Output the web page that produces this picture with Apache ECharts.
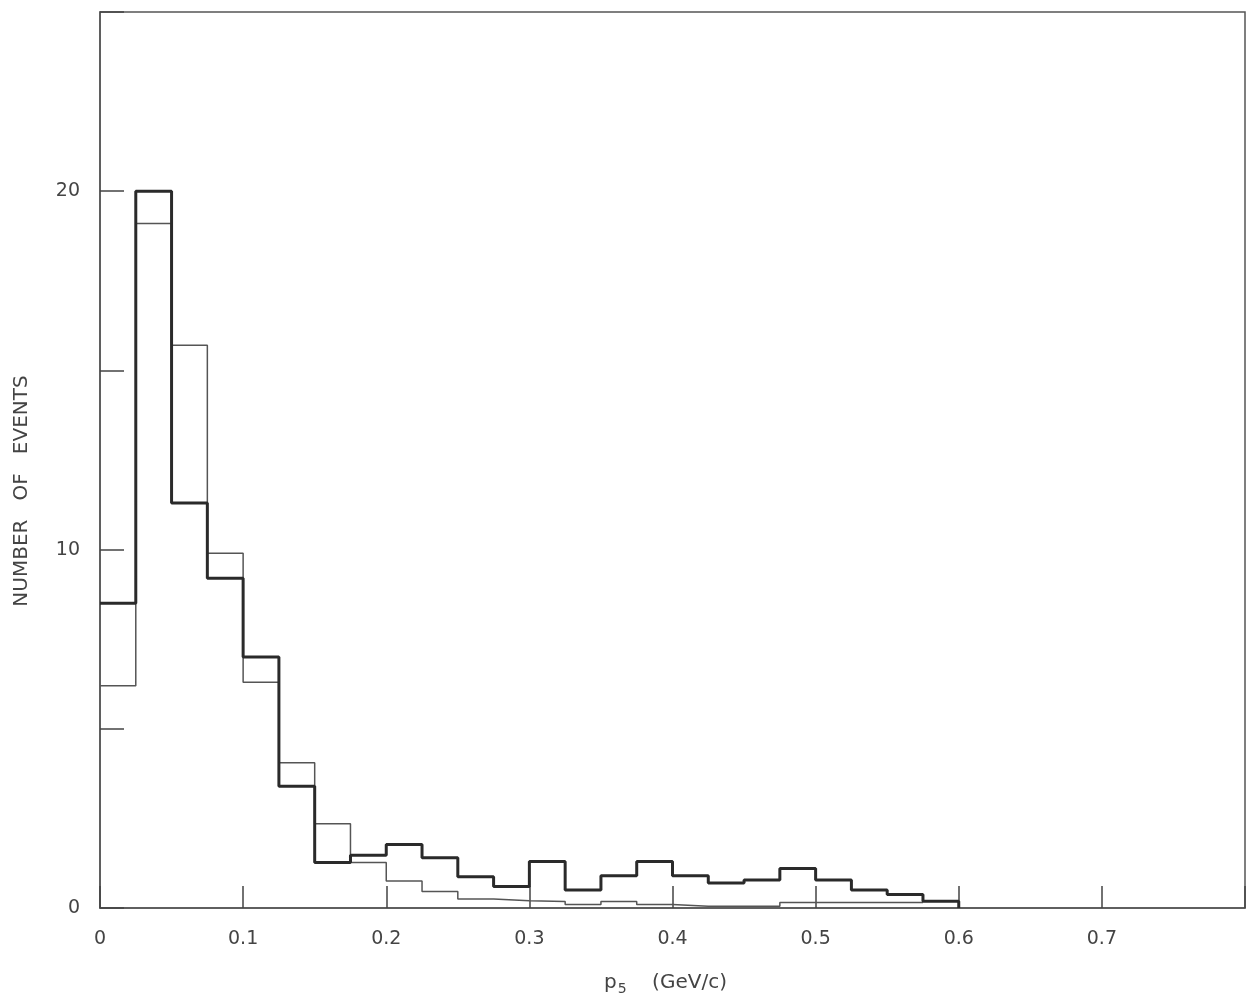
<!DOCTYPE html>
<html><head><meta charset="utf-8">
<script src="https://cdn.jsdelivr.net/npm/echarts@6/dist/echarts.min.js"></script>
<style>html,body{margin:0;padding:0;background:#fff}#c{width:1246px;height:995px}</style>
</head><body><div id="c"></div>
<script>
// Histogram of p5 (GeV/c), bin width 0.025 starting at 0
const binWidth = 0.025;
const binStart = 0;
// heavy histogram (counts per bin)
const thickCounts = [8.5, 20, 11.3, 9.2, 7.0, 3.4, 1.27, 1.47, 1.77, 1.4, 0.87, 0.6,
  1.3, 0.5, 0.9, 1.3, 0.9, 0.7, 0.78, 1.1, 0.78, 0.5, 0.38, 0.19];
// light histogram (counts per bin)
const thinCounts = [6.2, 19.1, 15.7, 9.9, 6.3, 4.05, 2.35, 1.27, 0.75, 0.46, 0.25, 0.2,
  0.18, 0.1, 0.18, 0.1, 0.05, 0.05, 0.05, 0.15, 0.15, 0.15, 0.15];
const xTickLabels = ['0', '0.1', '0.2', '0.3', '0.4', '0.5', '0.6', '0.7'];
const yTickLabels = ['0', '10', '20'];

function stepPoints(counts, dropToZero) {
  const pts = counts.map((v, i) => [binStart + i * binWidth, v]);
  const end = binStart + counts.length * binWidth;
  pts.push([end, dropToZero ? 0 : counts[counts.length - 1]]);
  return pts;
}

const textColor = '#444';
const font = 'DejaVu Sans';
const chart = echarts.init(document.getElementById('c'), null, {renderer: 'canvas'});
chart.setOption({
  animation: false,
  backgroundColor: '#fff',
  grid: {left: 100, right: 1, top: 12, bottom: 87, containLabel: false, outerBoundsMode: 'none',
    show: true, borderColor: '#555', borderWidth: 1.5, backgroundColor: 'transparent'},
  xAxis: {
    type: 'value', min: 0, max: 0.8, interval: 0.1,
    axisLine: {show: true, lineStyle: {color: '#555', width: 1.5}},
    axisTick: {show: true, inside: true, length: 22, lineStyle: {color: '#444', width: 1.5}},
    splitLine: {show: false},
    axisLabel: {
      margin: 22, color: textColor, fontFamily: font, fontSize: 19,
      formatter: function (v) {
        const idx = Math.round(v * 10);
        return idx < xTickLabels.length ? xTickLabels[idx] : '';
      }
    },
    name: '{p|p}{s|5}    (GeV/c)',
    nameLocation: 'middle', nameGap: 62,
    nameTextStyle: {
      color: textColor, fontFamily: font, fontSize: 20, padding: [0, 14, 0, 0],
      rich: {
        p: {fontSize: 20, fontFamily: font, color: textColor},
        s: {fontSize: 14, fontFamily: font, color: textColor, padding: [12, 0, 0, 1]}
      }
    }
  },
  yAxis: {
    type: 'value', min: 0, max: 25, interval: 5,
    axisLine: {show: true, lineStyle: {color: '#555', width: 1.5}},
    axisTick: {show: true, inside: true, length: 24, lineStyle: {color: '#444', width: 1.5}},
    splitLine: {show: false},
    axisLabel: {
      margin: 20, color: textColor, fontFamily: font, fontSize: 19,
      formatter: function (v) {
        const idx = yTickLabels.indexOf(String(v));
        return idx >= 0 ? yTickLabels[idx] : '';
      }
    }
  },
  graphic: [{
    type: 'text', x: 22, y: 491, rotation: Math.PI / 2,
    style: {
      text: 'NUMBER   OF   EVENTS', fill: textColor, font: '20px "DejaVu Sans"',
      textAlign: 'center', textVerticalAlign: 'middle'
    }
  }],
  series: [
    {
      type: 'line', step: 'end', data: stepPoints(thinCounts, false),
      showSymbol: false, symbol: 'none', z: 2,
      lineStyle: {color: '#555', width: 1.5}
    },
    {
      type: 'line', step: 'end', data: stepPoints(thickCounts, true),
      showSymbol: false, symbol: 'none', z: 3,
      lineStyle: {color: '#2a2a2a', width: 3}
    }
  ]
});
</script>
</body></html>
